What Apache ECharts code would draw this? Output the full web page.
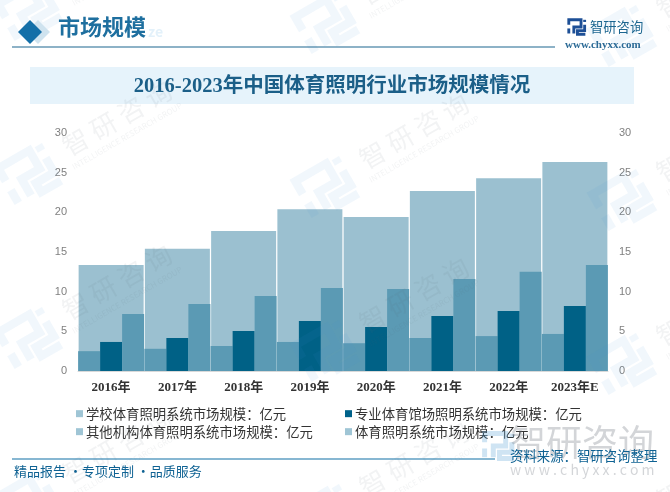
<!DOCTYPE html>
<html><head><meta charset="utf-8">
<style>html,body{margin:0;padding:0;background:#fff}#c{width:670px;height:492px}</style>
<script src="https://cdn.jsdelivr.net/npm/echarts@6/dist/echarts.min.js"></script>
</head><body><div id="c"></div>
<script>
const categories = ['2016年','2017年','2018年','2019年','2020年','2021年','2022年','2023年E'];
const schoolValues = [2.5,2.8,3.15,3.66,3.5,4.16,4.4,4.67];
const stadiumValues = [3.66,4.16,5.04,6.3,5.55,6.93,7.57,8.2];
const otherValues = [7.2,8.45,9.46,10.47,10.34,11.6,12.5,13.37];
const totalValues = [13.37,15.4,17.65,20.4,19.4,22.7,24.3,26.35];
const seriesNames = ['学校体育照明系统市场规模：亿元','专业体育馆场照明系统市场规模：亿元','其他机构体育照明系统市场规模：亿元','体育照明系统市场规模：亿元'];
const CJK = '"Noto Sans CJK SC","Noto Sans",sans-serif';
const SERIF = '"Liberation Serif","Noto Sans CJK SC",serif';
const chart = echarts.init(document.getElementById('c'),null,{renderer:'canvas'});

function logo(x,y,s,rot,color,z){
  const lines=[[[-20,-6],[-20,-20],[14,-20],[14,0],[-6,0],[-6,18]],[[-20,4],[-20,18]],[[24,-20],[24,-14]],[[24,-6],[24,10],[4,10],[4,20],[26,20]]];
  return {type:'group',x:x,y:y,scaleX:s,scaleY:s,rotation:rot,z:z,silent:true,
    children:lines.map(p=>({type:'polyline',z:z,shape:{points:p},style:{stroke:color,lineWidth:8,fill:null}}))};
}
const wm=[];
const ROT=Math.PI/6;
for(let c=0;c<3;c++){for(let r=0;r<4;r++){
  const lx=27+c*297, ly=12+r*164+c*13;
  wm.push(logo(lx,ly,1.05,ROT,'rgba(70,150,210,0.075)',50));
  wm.push({type:'text',z:50,silent:true,x:lx+90,y:ly-58,rotation:ROT,style:{text:'智 研 咨 询',font:'26px '+CJK,fill:'rgba(90,100,120,0.08)',textAlign:'center',textVerticalAlign:'middle'}});
  wm.push({type:'text',z:50,silent:true,x:lx+100,y:ly-40,rotation:ROT,style:{text:'INTELLIGENCE RESEARCH GROUP',font:'8px '+CJK,fill:'rgba(90,100,120,0.08)',textAlign:'center',textVerticalAlign:'middle'}});
}}

const graphic=[
  ...wm,
  {type:'polygon',z:60,silent:true,shape:{points:[[38,20],[50,32],[38,44],[26,32]]},style:{fill:'#cfe3ef'}},
  {type:'polygon',z:61,silent:true,shape:{points:[[30,20],[42,32],[30,44],[18,32]]},style:{fill:'#136fa8'}},
  {type:'text',z:61,silent:true,x:58,y:27,style:{text:'市场规模',font:'bold 22px '+CJK,fill:'#1e6f9f',textVerticalAlign:'middle'}},
  {type:'text',z:60,silent:true,x:148,y:32,style:{text:'ze',font:'bold 14px '+CJK,fill:'#e3f1fa',textVerticalAlign:'middle'}},
  {type:'line',z:60,silent:true,shape:{x1:12,y1:47,x2:555,y2:47},style:{stroke:'#1c6690',lineWidth:1.2}},
  logo(576,27,0.36,0,'#1d4f96',60),
  {type:'text',z:60,silent:true,x:590,y:27,style:{text:'智研咨询',font:'13.3px '+CJK,fill:'#1c6690',textVerticalAlign:'middle'}},
  {type:'text',z:60,silent:true,x:565,y:45,style:{text:'www.chyxx.com',font:'bold 11px '+SERIF,fill:'#2b6a96',textVerticalAlign:'middle'}},
  {type:'rect',z:0,silent:true,shape:{x:30,y:67,width:604,height:37},style:{fill:'#e6f3fb'}},
  {type:'text',z:60,silent:true,x:332,y:87,style:{text:'2016-2023年中国体育照明行业市场规模情况',font:'bold 20.5px '+SERIF,fill:'#1b5f88',textAlign:'center',textVerticalAlign:'middle'}},
  logo(497,446,0.62,0,'rgba(70,150,210,0.26)',55),
  {type:'text',z:55,silent:true,x:510,y:442,style:{text:'智研咨询',font:'36px '+CJK,fill:'rgba(110,115,125,0.30)',textVerticalAlign:'middle'}},
  {type:'text',z:55,silent:true,x:510,y:470,style:{text:'w w w . c h y x x . c o m',font:'14px '+CJK,fill:'rgba(110,115,125,0.30)',textVerticalAlign:'middle'}},
  {type:'line',z:60,silent:true,shape:{x1:12,y1:459,x2:495,y2:459},style:{stroke:'#1170a5',lineWidth:1.2}},
  {type:'text',z:60,silent:true,x:510,y:456,style:{text:'资料来源：智研咨询整理',font:'13.4px '+CJK,fill:'#0f6293',textVerticalAlign:'middle'}},
  {type:'text',z:60,silent:true,x:14,y:471,style:{text:'精品报告 ·专项定制 ·品质服务',font:'13px '+CJK,fill:'#0f6293',textVerticalAlign:'middle'}}
];
function legendAt(i,left,top,color){
  return {left:left,top:top,itemWidth:7,itemHeight:7,itemGap:0,padding:0,icon:'rect',selectedMode:false,
    data:[{name:seriesNames[i],itemStyle:{color:color}}],
    textStyle:{fontFamily:CJK,fontSize:13.35,color:'#333',padding:[0,0,0,-2]}};
}
const baseX={type:'category',data:categories,axisTick:{show:false}};
const baseY={type:'value',min:0,max:30,interval:5,splitLine:{show:false},axisLine:{show:false},axisTick:{show:false}};
const labelY={color:'#808080',fontSize:11,fontFamily:'"Liberation Sans",sans-serif',padding:[3,0,0,0]};
chart.setOption({
  animation:false,
  backgroundColor:'#fff',
  grid:{left:78,right:62,top:133,height:238},
  graphic:graphic,
  legend:[legendAt(0,76,407,'#9fc5d5'),legendAt(1,345,407,'#00628a'),legendAt(2,76,425,'#9fc5d5'),legendAt(3,345,425,'#9fc5d5')],
  xAxis:[
    {...baseX,axisLine:{lineStyle:{color:'#d9d9d9'}},axisLabel:{color:'#333',fontSize:13,fontWeight:'bold',fontFamily:SERIF,margin:10,interval:0}},
    {...baseX,show:false}
  ],
  yAxis:[
    {...baseY,position:'left',axisLabel:{...labelY,margin:11}},
    {...baseY,position:'right',axisLabel:{...labelY,margin:11}}
  ],
  series:[
    {name:seriesNames[3],type:'bar',xAxisIndex:1,yAxisIndex:1,barWidth:65,z:1,data:totalValues,itemStyle:{color:'#9bc0d0'}},
    {name:seriesNames[0],type:'bar',xAxisIndex:0,yAxisIndex:0,barWidth:22,barGap:0,z:3,data:schoolValues,itemStyle:{color:'#5b9ab4'}},
    {name:seriesNames[1],type:'bar',xAxisIndex:0,yAxisIndex:0,barWidth:22,barGap:0,z:3,data:stadiumValues,itemStyle:{color:'#006186'}},
    {name:seriesNames[2],type:'bar',xAxisIndex:0,yAxisIndex:0,barWidth:22,barGap:0,z:3,data:otherValues,itemStyle:{color:'#5b9ab4'}}
  ]
});
</script></body></html>
